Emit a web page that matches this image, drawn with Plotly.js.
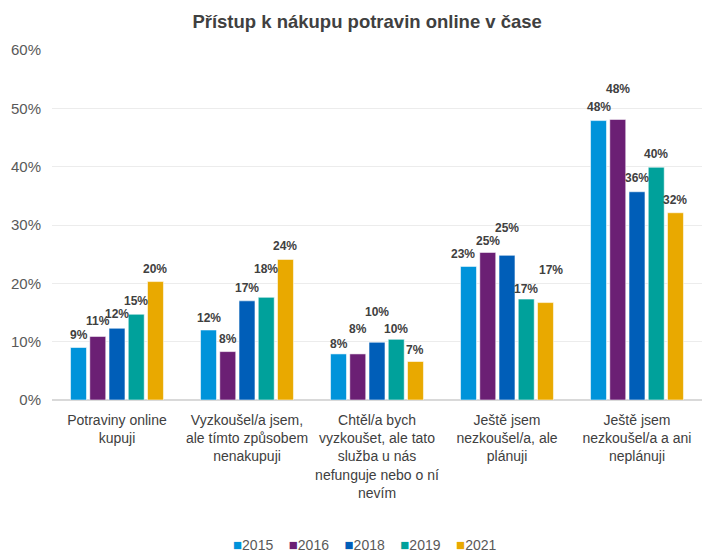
<!DOCTYPE html>
<html>
<head>
<meta charset="utf-8">
<script src="https://cdn.plot.ly/plotly-3.0.1.min.js"></script>
<style>html,body{margin:0;padding:0;background:#fff;}</style>
</head>
<body>
<div id="chart" style="width:702px;height:554px;"></div>
<script>
// ---- data ----
const categories = [
  'Potraviny online<br>kupuji',
  'Vyzkoušel/a jsem,<br>ale tímto způsobem<br>nenakupuji',
  'Chtěl/a bych<br>vyzkoušet, ale tato<br>služba u nás<br>nefunguje nebo o ní<br>nevím',
  'Ještě jsem<br>nezkoušel/a, ale<br>plánuji',
  'Ještě jsem<br>nezkoušel/a a ani<br>neplánuji'
];
const years = ['2015', '2016', '2018', '2019', '2021'];
const v2015 = [9.0, 12.0, 7.9, 22.9, 47.9];
const v2016 = [10.9, 8.3, 7.9, 25.3, 48.1];
const v2018 = [12.3, 17.0, 9.9, 24.8, 35.7];
const v2019 = [14.7, 17.6, 10.4, 17.3, 39.9];
const v2021 = [20.3, 24.1, 6.6, 16.7, 32.1];
const lab2015 = ['9%', '12%', '8%', '23%', '48%'];
const lab2016 = ['11%', '8%', '8%', '25%', '48%'];
const lab2018 = ['12%', '17%', '10%', '25%', '36%'];
const lab2019 = ['15%', '18%', '10%', '17%', '40%'];
const lab2021 = ['20%', '24%', '7%', '17%', '32%'];
const yTicks = [0, 10, 20, 30, 40, 50, 60];
const yTickText = ['0%', '10%', '20%', '30%', '40%', '50%', '60%'];

// ---- styling ----
const colors = ['#0093DA', '#6B1F74', '#005EB8', '#00A19B', '#E9A900'];
const series = [v2015, v2016, v2018, v2019, v2021];
const labels = [lab2015, lab2016, lab2018, lab2019, lab2021];
// vertical pixel offset of each value label above its bar top (label centre)
const labelLift = [
  [13, 12, 10, 12, 14],
  [15, 13, 25, 11, 30],
  [14, 13, 30, 27, 14],
  [13, 28, 10, 10, 13],
  [13, 13, 12, 33, 13]
];
const labelNudge = [
  [0, 0, 0, -6, 0],
  [0, 0, 0, 0, 0],
  [0, 0, 0, 0, 0],
  [0, 0, 0, 0, 0],
  [0, 0, 0, 6, 0]
];
const bargap = 0.26;
const font = 'Liberation Sans, Arial, sans-serif';

const traces = series.map((vals, i) => ({
  type: 'bar',
  name: years[i],
  x: categories,
  y: vals,
  marker: { color: colors[i], line: { color: 'rgba(255,255,255,0.55)', width: 1 } },
  hoverinfo: 'name+y'
}));

const annotations = [];
series.forEach((vals, i) => {
  vals.forEach((v, c) => {
    annotations.push({
      x: c + (i - 2) * (1 - bargap) / 5,
      y: v,
      xref: 'x', yref: 'y',
      text: labels[i][c],
      showarrow: false,
      yanchor: 'middle',
      xanchor: 'center',
      yshift: labelLift[i][c],
      xshift: labelNudge[i][c],
      font: { family: font, size: 12, color: '#404040', weight: 'bold' }
    });
  });
});

// legend line (compact, like the reference)
const legendText = years.map((y, i) =>
  '<span style="color:' + colors[i] + ';font-size:15px">■</span>' + y
).join('\u00A0\u00A0\u00A0\u00A0');
annotations.push({
  x: 0.4815, y: -0.414, xref: 'paper', yref: 'paper',
  text: legendText, showarrow: false, xanchor: 'center', yanchor: 'middle',
  font: { family: font, size: 14, color: '#595959' }
});

const layout = {
  width: 702, height: 554,
  margin: { l: 52, r: 0, t: 50, b: 154 },
  paper_bgcolor: '#fff', plot_bgcolor: '#fff',
  title: {
    text: '<b>Přístup k nákupu potravin online v čase</b>',
    font: { family: font, size: 18.5, color: '#404040' },
    x: 0.523, xref: 'container', xanchor: 'center',
    y: 0.962, yref: 'container', yanchor: 'middle'
  },
  showlegend: false,
  barmode: 'group',
  bargap: bargap,
  bargroupgap: 0.17,
  xaxis: {
    type: 'category',
    tickfont: { family: font, size: 14, color: '#404040' },
    ticks: '', showgrid: false, showline: false, zeroline: false,
    ticklabelstandoff: 10
  },
  yaxis: {
    range: [0, 60],
    tickvals: yTicks, ticktext: yTickText,
    tickfont: { family: font, size: 15, color: '#595959' },
    ticks: '', showline: false,
    gridcolor: '#ececec', gridwidth: 1,
    zeroline: true, zerolinecolor: '#d9d9d9', zerolinewidth: 1.5,
    ticklabelstandoff: 10
  },
  annotations: annotations,
  font: { family: font }
};

Plotly.newPlot('chart', traces, layout, { displayModeBar: false, staticPlot: true });
</script>
</body>
</html>
